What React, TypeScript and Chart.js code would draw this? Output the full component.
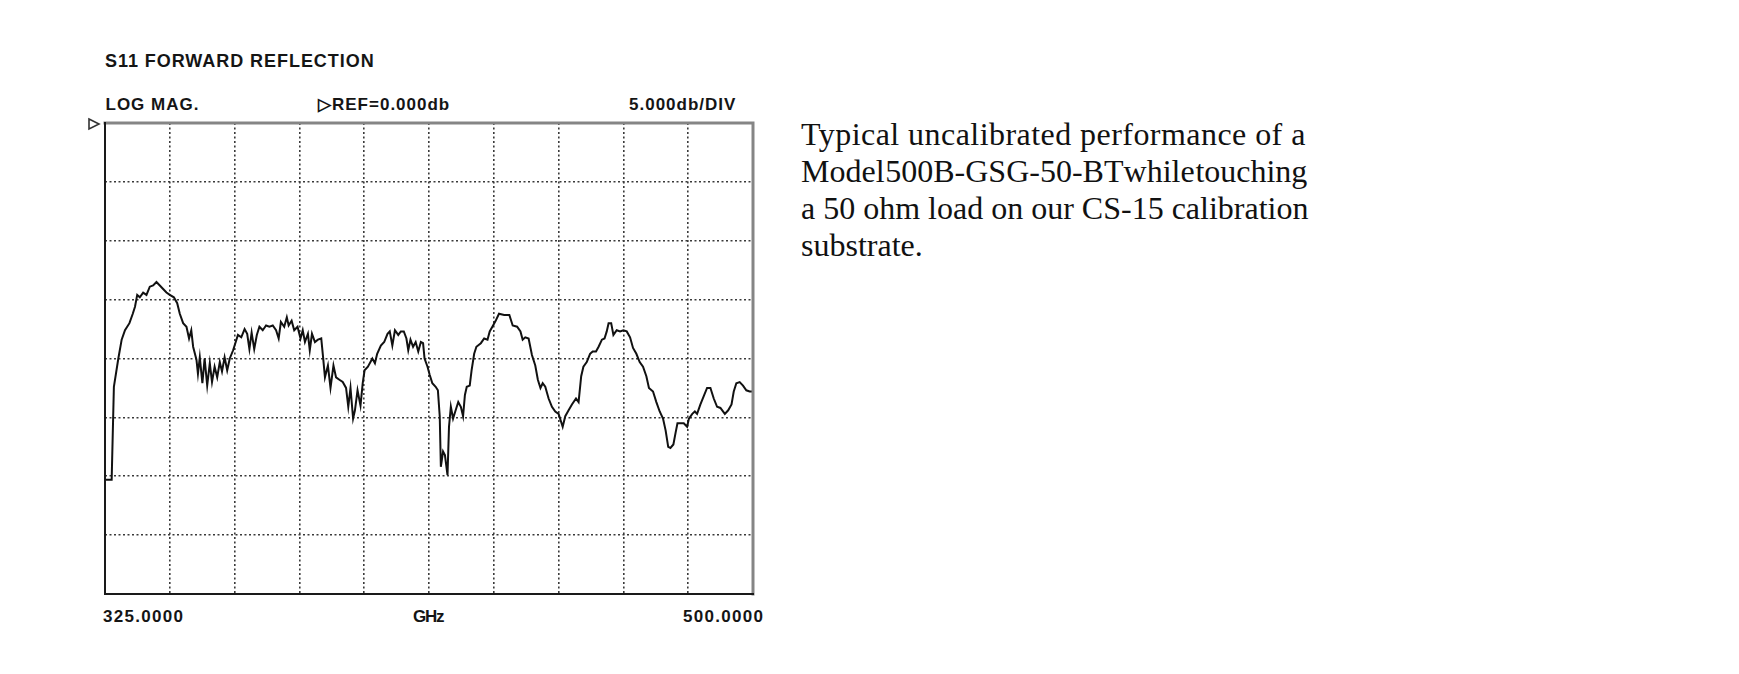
import React, { useEffect, useRef } from "react";
import { Chart, registerables } from "chart.js";

Chart.register(...registerables);

// ---- data ----
const freqGHz = [
  325.0, 326.8, 327.4, 328.6, 329.5, 330.4, 331.6, 332.5, 333.1, 333.7, 334.4, 335.3, 336.2, 337.1, 338.0, 338.9,
  339.8, 340.7, 341.6, 342.5, 343.6, 344.5, 345.2, 346.1, 347.0, 347.7, 348.3, 348.8, 349.7, 350.1, 350.6, 351.3,
  351.9, 352.6, 353.3, 353.9, 354.6, 355.3, 356.0, 356.6, 357.3, 358.0, 358.7, 359.6,
  360.9, 361.8, 362.7, 363.4, 364.0, 364.6, 365.3, 366.0, 366.7, 367.6, 368.5, 369.4, 370.3, 371.2, 371.9, 372.5,
  373.4, 374.1, 374.6, 375.4, 376.1, 377.0, 377.8, 378.4, 379.0, 379.8, 380.3, 380.9, 381.7, 382.5, 383.4, 383.9,
  384.4, 385.2, 385.9, 386.7, 387.4, 388.3, 389.2, 390.1, 390.7, 391.3, 392.0, 392.5, 393.2, 394.0, 394.6, 395.1,
  396.0,
  397.2, 397.9, 398.5, 399.5, 400.4, 401.3, 401.9, 402.6, 403.3, 404.2, 404.9, 405.7, 406.4, 406.9, 407.5, 408.2,
  408.9, 409.6, 410.3, 410.9, 411.3, 412.1, 412.7, 413.4, 414.3, 414.9, 415.4, 415.7, 416.3, 416.8, 417.5, 417.9,
  418.4, 419.0, 419.7, 420.4, 421.1, 421.7, 422.2, 422.7, 423.5, 424.0, 424.7, 425.3, 426.5, 427.4, 428.3, 428.9,
  429.8, 430.5, 431.4, 432.8,
  434.2, 435.1, 436.3, 437.2, 437.8, 438.5, 439.4, 440.3, 441.2, 441.9, 442.6, 443.2, 443.9, 444.8, 445.7, 446.6,
  447.5, 448.0, 448.6, 449.3, 450.2, 451.1, 452.2, 452.9, 453.6, 454.2, 455.1, 456.0, 456.7, 457.6, 458.3, 459.2,
  459.9, 460.5, 461.0, 461.7, 462.3, 463.2, 464.1, 465.0, 465.9, 466.8, 467.6, 468.5, 469.4,
  470.3, 471.2, 471.9, 473.0, 473.9, 474.8, 475.7, 476.4, 477.1, 477.7, 478.5, 479.1, 479.6, 480.4, 481.3, 482.2,
  482.7, 483.6, 484.3, 484.9, 485.8, 486.7, 487.6, 488.5, 489.4, 490.3, 491.2, 492.4, 493.3, 494.2, 494.8, 495.5,
  496.4, 497.3, 498.2, 499.1, 500.0,
];

const s11dB = [
  -30.3, -30.3, -22.4, -20.0, -18.4, -17.6, -17.0, -16.2, -15.6, -14.6, -14.8, -14.4, -14.6, -13.9, -13.8, -13.5,
  -13.8, -14.1, -14.4, -14.6, -14.8, -15.3, -16.2, -17.0, -17.3, -18.3, -17.6, -19.0, -20.1, -21.3, -19.9, -22.1,
  -20.0, -22.3, -20.4, -22.0, -20.7, -21.6, -20.3, -21.1, -19.9, -21.0, -20.0, -19.3,
  -18.0, -18.2, -17.5, -17.9, -19.2, -17.8, -19.2, -18.0, -17.3, -17.6, -17.2, -17.3, -17.2, -17.6, -18.3, -16.9,
  -17.3, -16.5, -17.2, -16.8, -17.6, -17.3, -18.3, -17.6, -18.6, -17.9, -19.3, -17.9, -18.6, -18.4, -18.3, -19.9,
  -21.6, -20.6, -22.5, -20.6, -21.6, -21.8, -22.0, -22.5, -24.1, -22.5, -25.1, -24.4, -22.7, -24.0, -22.1, -21.0,
  -20.7,
  -20.0, -20.4, -19.6, -18.9, -18.6, -17.9, -17.7, -18.9, -17.6, -18.0, -17.7, -17.7, -18.3, -19.3, -18.4, -19.0,
  -18.6, -19.4, -18.6, -18.7, -20.0, -20.7, -21.4, -22.1, -22.4, -22.7, -24.9, -29.2, -27.9, -28.2, -29.9, -25.8,
  -24.1, -25.1, -24.4, -23.7, -24.1, -24.9, -23.1, -22.4, -22.3, -21.0, -19.6, -19.0, -18.7, -18.3, -18.4, -17.7,
  -17.2, -16.8, -16.2, -16.3,
  -16.3, -17.2, -17.3, -17.7, -18.4, -18.2, -18.3, -19.7, -20.6, -21.8, -22.5, -22.1, -22.4, -23.4, -24.1, -24.5,
  -24.7, -25.2, -25.8, -24.9, -24.4, -23.9, -23.4, -23.7, -21.5, -20.7, -20.3, -19.6, -19.4, -19.4, -19.0, -18.4,
  -18.3, -17.7, -17.0, -17.0, -18.0, -17.6, -17.7, -17.6, -17.7, -18.2, -19.1, -19.6, -20.3,
  -20.7, -21.5, -22.5, -22.8, -23.7, -24.5, -25.1, -26.1, -27.5, -27.6, -27.3, -26.3, -25.5, -25.5, -25.5, -25.8,
  -25.1, -24.7, -24.5, -24.7, -23.9, -23.2, -22.5, -22.5, -23.4, -24.1, -24.2, -24.7, -24.4, -23.9, -22.8, -22.1,
  -22.0, -22.3, -22.7, -22.8, -22.8,
];

const startGHz = 325;
const stopGHz = 500;
const xDivisions = 10;
const refDb = 0;
const dbPerDiv = 5;
const yDivisions = 8;

const titleText = "S11 FORWARD REFLECTION";
const formatLabel = "LOG MAG.";
const refLabel = "\u25B7REF=0.000db";
const scaleLabel = "5.000db/DIV";
const startLabel = "325.0000";
const unitLabel = "GHz";
const stopLabel = "500.0000";
const noteLines = [
  "Typical uncalibrated performance of a",
  "Model 500B-GSG-50-BT while touching",
  "a 50 ohm load on our CS-15 calibration",
  "substrate.",
];

const xGridTicks = Array.from({ length: xDivisions + 1 }, (_, i) => startGHz + ((stopGHz - startGHz) * i) / xDivisions);
const yGridTicks = Array.from({ length: yDivisions + 1 }, (_, i) => refDb - dbPerDiv * i);

const frameBorderPlugin = {
  id: "frameBorder",
  afterDatasetsDraw(chart: any) {
    const { ctx, chartArea } = chart;
    const { left, right, top, bottom } = chartArea;
    ctx.save();
    ctx.lineCap = "square";
    // top & right: gray
    ctx.strokeStyle = "#858585";
    ctx.lineWidth = 3;
    ctx.beginPath();
    ctx.moveTo(left, top);
    ctx.lineTo(right, top);
    ctx.lineTo(right, bottom);
    ctx.stroke();
    // left & bottom: black
    ctx.strokeStyle = "#1a1a1a";
    ctx.lineWidth = 2;
    ctx.beginPath();
    ctx.moveTo(left, top);
    ctx.lineTo(left, bottom);
    ctx.lineTo(right, bottom);
    ctx.stroke();
    // reference marker
    const yRef = chart.scales.y.getPixelForValue(refDb) + 1;
    ctx.strokeStyle = "#333";
    ctx.lineWidth = 1.6;
    ctx.lineCap = "butt";
    ctx.beginPath();
    ctx.moveTo(left - 16, yRef - 5);
    ctx.lineTo(left - 6, yRef);
    ctx.lineTo(left - 16, yRef + 5);
    ctx.closePath();
    ctx.stroke();
    ctx.restore();
  },
};

function TraceChart() {
  const ref = useRef<HTMLCanvasElement>(null);
  useEffect(() => {
    if (!ref.current) return;
    const points = freqGHz.map((f, i) => ({ x: f, y: s11dB[i] }));
    const gridCommon = {
      color: "#3a3a3a",
      lineWidth: 1.6,
      drawTicks: false,
    };
    const chart = new Chart(ref.current, {
      type: "line",
      data: {
        datasets: [
          {
            data: points,
            borderColor: "#111",
            borderWidth: 2,
            pointRadius: 0,
            tension: 0,
            fill: false,
          },
        ],
      },
      options: {
        animation: false,
        responsive: false,
        maintainAspectRatio: false,
        events: [],
        layout: { padding: { left: 24, right: 12, top: 12, bottom: 12 } },
        plugins: { legend: { display: false }, tooltip: { enabled: false } },
        scales: {
          x: {
            type: "linear",
            min: startGHz,
            max: stopGHz,
            ticks: { display: false },
            afterBuildTicks: (axis: any) => {
              axis.ticks = xGridTicks.map((v) => ({ value: v }));
            },
            grid: gridCommon,
            border: { display: false, dash: [2, 2.5] },
          },
          y: {
            type: "linear",
            min: refDb - dbPerDiv * yDivisions,
            max: refDb,
            ticks: { display: false },
            afterBuildTicks: (axis: any) => {
              axis.ticks = yGridTicks.map((v) => ({ value: v }));
            },
            grid: gridCommon,
            border: { display: false, dash: [2, 2.5] },
          },
        },
      } as any,
      plugins: [frameBorderPlugin],
    });
    return () => chart.destroy();
  }, []);
  return (
    <div style={{ position: "absolute", left: 81, top: 111, width: 684, height: 495 }}>
      <canvas ref={ref} width={684} height={495} style={{ width: 684, height: 495, display: "block" }} />
    </div>
  );
}

const sans: React.CSSProperties = {
  position: "absolute",
  fontFamily: '"Liberation Sans", Arial, sans-serif',
  fontWeight: 700,
  color: "#151515",
  whiteSpace: "nowrap",
  lineHeight: "17px",
  fontSize: 17,
  letterSpacing: "1px",
};

const noteLineStyles: React.CSSProperties[] = [
  { letterSpacing: "0.45px" },
  { wordSpacing: "-7.3px" },
  {},
  {},
];

export default function App() {
  return (
    <div style={{ position: "absolute", left: 0, top: 0, width: 1739, height: 674, background: "#fff", overflow: "hidden" }}>
      <div style={{ ...sans, left: 105, top: 51.5, fontSize: 18, lineHeight: "18px", letterSpacing: "0.95px" }}>{titleText}</div>
      <div style={{ ...sans, left: 105.5, top: 95.6 }}>{formatLabel}</div>
      <div style={{ ...sans, left: 318, top: 95.6 }}>{refLabel}</div>
      <div style={{ ...sans, left: 629, top: 95.6 }}>{scaleLabel}</div>
      <div style={{ ...sans, left: 103, top: 607.6, letterSpacing: "1.3px" }}>{startLabel}</div>
      <div style={{ ...sans, left: 413, top: 607.6, letterSpacing: "-1.2px" }}>{unitLabel}</div>
      <div style={{ ...sans, left: 683, top: 607.6, letterSpacing: "1.3px" }}>{stopLabel}</div>
      <TraceChart />
      <div
        style={{
          position: "absolute",
          left: 801,
          top: 116,
          fontFamily: '"Liberation Serif", "Times New Roman", serif',
          fontSize: 32,
          lineHeight: "37px",
          color: "#111",
        }}
      >
        {noteLines.map((t, i) => (
          <div key={i} style={{ whiteSpace: "nowrap", ...noteLineStyles[i] }}>
            {t}
          </div>
        ))}
      </div>
    </div>
  );
}
